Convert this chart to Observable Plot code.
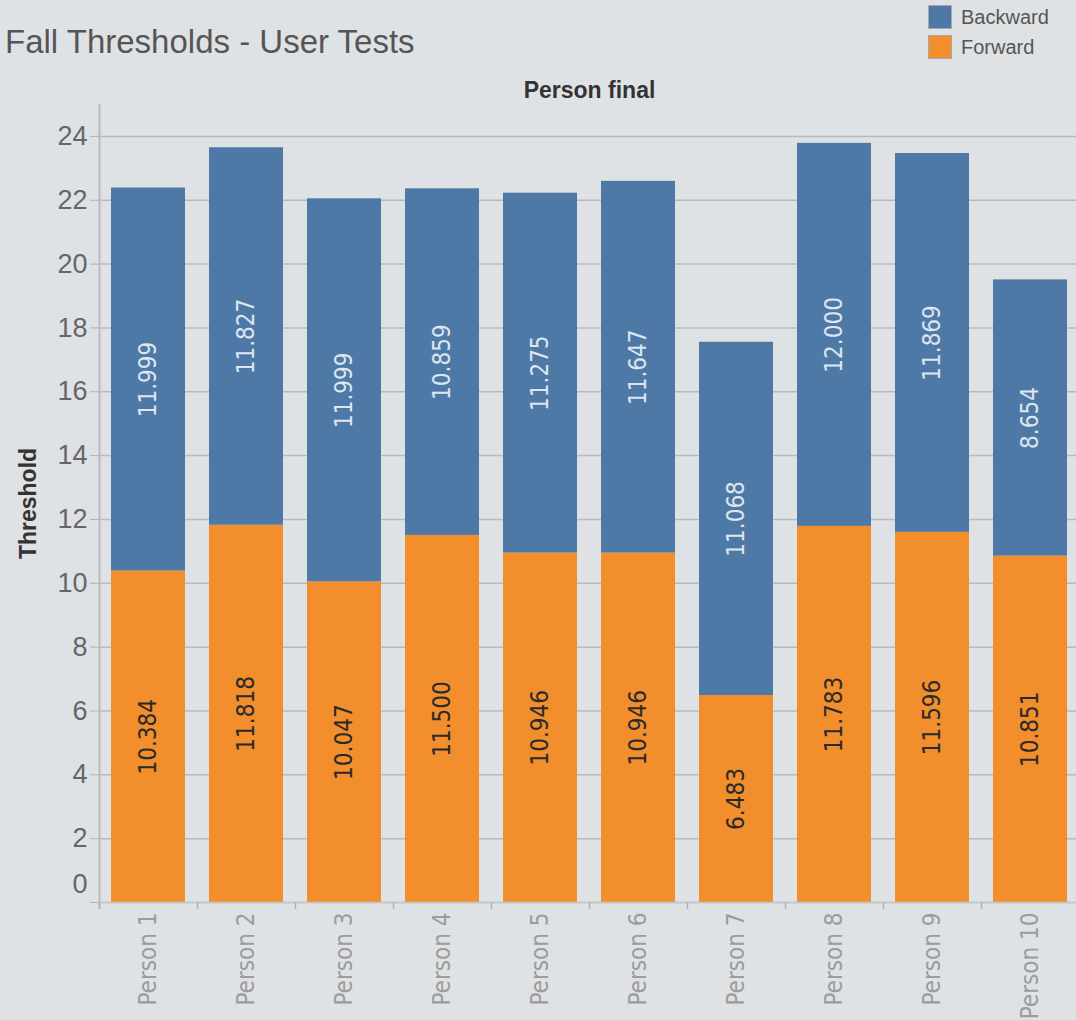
<!DOCTYPE html>
<html>
<head>
<meta charset="utf-8">
<script src="https://cdn.jsdelivr.net/npm/d3@7"></script>
<script src="https://cdn.jsdelivr.net/npm/@observablehq/plot@0.6"></script>
<style>
  html, body { margin: 0; padding: 0; background: #dfe2e5; }
  #wrap { position: relative; width: 1076px; height: 1020px; background: #dfe2e5; overflow: hidden; font-family: "Liberation Sans", Arial, sans-serif; }
  #header { position: relative; width: 1076px; height: 68px; }
  #title { position: absolute; left: 5px; top: 25px; font-size: 33px; line-height: 1; color: #555; white-space: nowrap; }
  #legend { position: absolute; left: 928px; top: 2px; font-size: 20px; color: #555; }
  .li { display: flex; align-items: center; height: 30px; }
  .sw { width: 22px; height: 22px; border: 1px solid #a8a8a8; margin-right: 9px; box-sizing: content-box; }
  #chart svg { display: block; }
</style>
</head>
<body>
<div id="wrap">
  <div id="header">
    <div id="title">Fall Thresholds - User Tests</div>
    <div id="legend"></div>
  </div>
  <div id="chart"></div>
</div>
<script>
const persons = ["Person 1", "Person 2", "Person 3", "Person 4", "Person 5", "Person 6", "Person 7", "Person 8", "Person 9", "Person 10"];
const forward = [10.384, 11.818, 10.047, 11.500, 10.946, 10.946, 6.483, 11.783, 11.596, 10.851];
const backward = [11.999, 11.827, 11.999, 10.859, 11.275, 11.647, 11.068, 12.000, 11.869, 8.654];
const seriesNames = ["Backward", "Forward"];
const seriesColors = ["#4e79a7", "#f28e2b"];
const yTicks = [0, 2, 4, 6, 8, 10, 12, 14, 16, 18, 20, 22, 24];

const data = persons.flatMap((p, i) => [
  {person: p, series: "Forward", value: forward[i]},
  {person: p, series: "Backward", value: backward[i]}
]);

// legend
const legend = document.getElementById("legend");
seriesNames.forEach((s, i) => {
  const row = document.createElement("div");
  row.className = "li";
  const sw = document.createElement("div");
  sw.className = "sw";
  sw.style.background = seriesColors[i];
  const t = document.createElement("span");
  t.textContent = s;
  row.appendChild(sw); row.appendChild(t);
  legend.appendChild(row);
});

const fmt = d3.format(".3f");
const W = 1076, H = 952, ML = 99, MR = -3;
const halfStep = (W - ML - MR) / persons.length / 2;
const narrow = "'DejaVu Sans Condensed', 'DejaVu Sans', sans-serif";

const chart = Plot.plot({
  width: W,
  height: H,
  marginLeft: ML,
  marginRight: MR,
  marginTop: 36,
  marginBottom: 118,
  style: {background: "transparent", fontFamily: "'Liberation Sans', Arial, sans-serif", overflow: "visible"},
  x: {domain: persons, paddingInner: 0.245, paddingOuter: 0.1225, label: null},
  y: {domain: [0, 25], label: null},
  color: {domain: seriesNames, range: seriesColors},
  marks: [
    Plot.gridY(yTicks, {stroke: "#b8babc", strokeOpacity: 1, strokeWidth: 1.5}),
    Plot.barY(data, {x: "person", y: "value", fill: "series", z: "series"}),
    Plot.text(data, Plot.stackY({
      x: "person", y: "value", z: "series",
      text: d => d.series === "Forward" ? fmt(d.value) : "",
      rotate: -90, fill: "#2a2a2a", fontSize: 24, fontFamily: narrow
    })),
    Plot.text(data, Plot.stackY({
      x: "person", y: "value", z: "series",
      text: d => d.series === "Backward" ? fmt(d.value) : "",
      rotate: -90, fill: "#dde5ee", fontSize: 24, fontFamily: narrow
    })),
    Plot.ruleY([0], {stroke: "#c4c6c8", strokeWidth: 1.5}),
    Plot.ruleX(persons, {x: d => d, dx: -halfStep, y1: 0, y2: 0, insetBottom: -7, stroke: "#b0b2b4", strokeWidth: 1.5}),
    Plot.ruleX([persons[0]], {x: d => d, dx: -halfStep, insetBottom: -7, stroke: "#b8babc", strokeWidth: 2}),
    Plot.axisY({ticks: yTicks, tickSize: 9, tickPadding: 3, tickFormat: d => d === 0 ? "" : d, fontSize: 27, fill: "#666", stroke: "#b0b2b4", label: null}),
    Plot.axisY({ticks: [0], tickSize: 0, tickPadding: 12, dy: -18, fontSize: 27, fill: "#666", label: null}),
    Plot.axisX({tickSize: 0, tickPadding: 10, tickRotate: -90, fontSize: 24, fontFamily: narrow, fill: "#9c9c9c", label: null}),
    Plot.text(["Person final"], {frameAnchor: "top", dy: -23, fontSize: 23, fontWeight: "bold", fill: "#333"}),
    Plot.text(["Threshold"], {frameAnchor: "left", dx: -71, rotate: -90, textAnchor: "middle", fontSize: 23, fontWeight: "bold", fill: "#333"})
  ]
});
document.getElementById("chart").appendChild(chart);
</script>
</body>
</html>
